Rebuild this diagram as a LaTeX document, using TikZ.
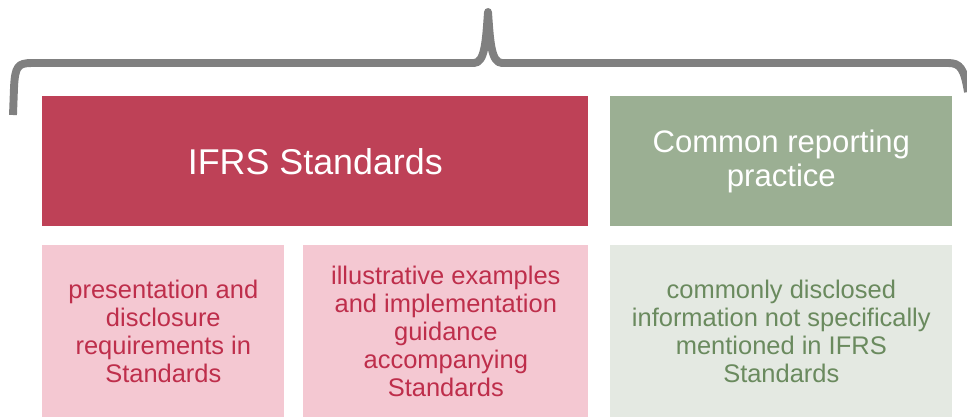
\documentclass[tikz,border=0pt]{standalone}
\usepackage{fontspec}
\setmainfont{Liberation Sans}
\usepackage{tikz}

\definecolor{ifrsred}{HTML}{BE4157}
\definecolor{ifrspink}{HTML}{F4C8D2}
\definecolor{ifrstext}{HTML}{BE2E4B}
\definecolor{crpgreen}{HTML}{9BAF93}
\definecolor{crplight}{HTML}{E4E9E2}
\definecolor{crptext}{HTML}{6A8A5E}
\definecolor{bracegray}{HTML}{808080}

\tikzset{
  head/.style={anchor=north west, inner sep=0pt, align=center, text=white,
    minimum height=2.6cm},
  body/.style={anchor=north west, inner sep=0pt, align=center,
    minimum height=3.44cm, font=\fontsize{14.5}{16}\selectfont},
  brace/.style={draw=bracegray, line width=4.5pt, line join=round}
}

\begin{document}
\begin{tikzpicture}[x=0.02cm, y=-0.02cm]
    \useasboundingbox (0,0) rectangle (967,417);

    \node[head, fill=ifrsred, minimum width=10.92cm,
      font=\fontsize{20.4}{22}\selectfont] (ifrs) at (42,96) {IFRS Standards};
    \node[head, fill=crpgreen, minimum width=6.84cm,
      font=\fontsize{17.7}{19.5}\selectfont] (crp) at (610,96) {Common reporting\\practice};

    \node[body, fill=ifrspink, text=ifrstext, minimum width=4.84cm] (pres) at (42,245)
      {presentation and\\disclosure\\requirements in\\Standards};
    \node[body, fill=ifrspink, text=ifrstext, minimum width=5.7cm] (illu) at (303,245)
      {illustrative examples\\and implementation\\guidance\\accompanying\\Standards};
    \node[body, fill=crplight, text=crptext, minimum width=6.84cm] (comm) at (610,245)
      {commonly disclosed\\information not specifically\\mentioned in IFRS\\Standards};

    \draw[brace] (13,115) -- (14,88) .. controls (15,66) and (18,63) .. (32,63)
      -- (474,63) .. controls (485,63) and (486,40) .. (488,12)
      .. controls (490,40) and (491,63) .. (502,63)
      -- (948,63) .. controls (960,63) and (964,68) .. (968,92);
\end{tikzpicture}
\end{document}
